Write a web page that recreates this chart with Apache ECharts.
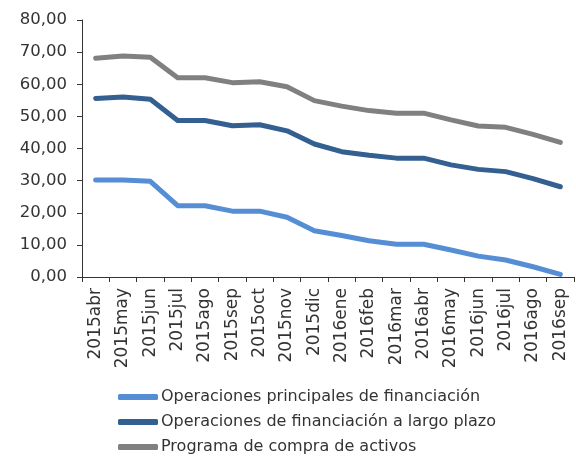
<!DOCTYPE html>
<html>
<head>
<meta charset="utf-8">
<script src="https://cdn.jsdelivr.net/npm/echarts@6/dist/echarts.min.js"></script>
<style>
  html, body { margin: 0; padding: 0; background: #fff; }
  #chart { width: 576px; height: 457px; }
</style>
</head>
<body>
<div id="chart"></div>
<script>
// meses
var categories = ['2015abr', '2015may', '2015jun', '2015jul', '2015ago', '2015sep', '2015oct', '2015nov', '2015dic',
  '2016ene', '2016feb', '2016mar', '2016abr', '2016may', '2016jun', '2016jul', '2016ago', '2016sep']

var seriesNames = ['Operaciones principales de financiación', 'Operaciones de financiación a largo plazo', 'Programa de compra de activos']

var principales = [30.2, 30.2, 29.8, 22.2, 22.2, 20.5, 20.5, 18.6, 14.4, 12.9, 11.3, 10.2, 10.2, 8.4, 6.5, 5.3, 3.2, 0.8]
var largoPlazo = [55.6, 56.0, 55.3, 48.7, 48.7, 47.1, 47.4, 45.5, 41.4, 39.0, 37.9, 37.0, 37.0, 34.9, 33.5, 32.8, 30.6, 28.1]
var compraActivos = [68.1, 68.8, 68.4, 62.0, 62.0, 60.5, 60.8, 59.2, 54.9, 53.2, 51.8, 51.0, 51.0, 48.9, 47.0, 46.6, 44.4, 41.9]

var colors = ['#558ed5', '#335f91', '#808080']
var font = '"DejaVu Sans", sans-serif'

var chart = echarts.init(document.getElementById('chart'))

function makeSeries(name, data, color) {
  return {
    name: name,
    type: 'line',
    data: data,
    symbol: 'none',
    color: color,
    lineStyle: { color: color, width: 5, cap: 'round', join: 'round' },
    animation: false
  }
}

chart.setOption({
  grid: { left: 82, right: 2, top: 20, bottom: 180 },
  legend: {
    orient: 'vertical',
    left: 118,
    top: 388,
    padding: 0,
    icon: 'roundRect',
    itemWidth: 40,
    itemHeight: 6,
    itemGap: 7,
    data: seriesNames,
    textStyle: { fontFamily: font, fontSize: 16, color: '#333', lineHeight: 18, padding: [0, 0, 0, -2] }
  },
  xAxis: {
    type: 'category',
    data: categories,
    boundaryGap: true,
    axisLine: { lineStyle: { color: '#333', width: 1 } },
    axisTick: { show: true, length: 5, interval: 0, lineStyle: { color: '#333' } },
    axisLabel: { rotate: 90, interval: 0, margin: 11, fontFamily: font, fontSize: 17, color: '#333' }
  },
  yAxis: {
    type: 'value',
    min: 0,
    max: 80,
    interval: 10,
    splitLine: { show: false },
    axisLine: { show: true, lineStyle: { color: '#333', width: 1 } },
    axisTick: { show: true, length: 5, lineStyle: { color: '#333' } },
    axisLabel: {
      margin: 15,
      fontFamily: font,
      fontSize: 16.5,
      color: '#333',
      formatter: function (v) { return v.toFixed(2).replace('.', ',') }
    }
  },
  series: [
    makeSeries(seriesNames[0], principales, colors[0]),
    makeSeries(seriesNames[1], largoPlazo, colors[1]),
    makeSeries(seriesNames[2], compraActivos, colors[2])
  ]
})
</script>
</body>
</html>
